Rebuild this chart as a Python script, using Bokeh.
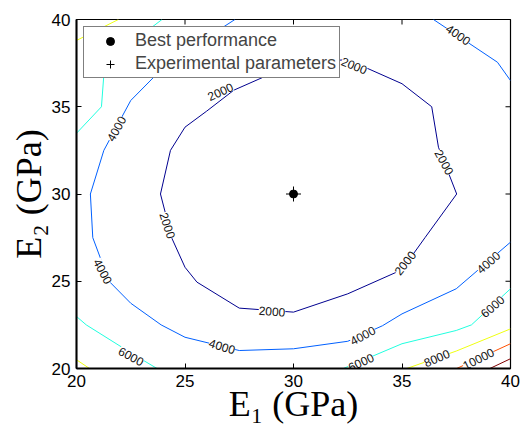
import numpy as np
from bokeh.plotting import figure
from bokeh.models import Range1d, ColumnDataSource
from bokeh.embed import file_html
from bokeh.resources import INLINE
from bokeh.core.properties import value

# ---------------- data ----------------
x_ticks = [20, 25, 30, 35, 40]
y_ticks = [20, 25, 30, 35, 40]

level_colors = {2000: "#00008F", 4000: "#0060FF", 6000: "#20FFDF",
                8000: "#EFFF10", 10000: "#FF5000", 12000: "#800000"}

# contour pieces (E1, E2 in GPa)
c2000_x = [30.0, 32.5, 35.0, 36.37, 36.68, 37.52, 36.06, 35.0, 32.5, 30.0, 27.5, 25.55, 25.0, 24.4, 23.87, 24.33, 25.0, 26.0, 27.25, 28.8, 30.0]
c2000_y = [37.5, 37.7, 36.32, 35.0, 32.68, 30.0, 27.5, 25.66, 24.28, 23.23, 23.46, 24.95, 25.8, 27.45, 30.0, 32.5, 33.83, 34.75, 35.95, 36.8, 37.5]

c4000a_x = [27.3, 24.2, 22.5, 21.26, 20.64, 20.75, 21.5, 22.5, 23.9, 25.0, 27.5, 30.0, 32.5, 34.1, 35.0, 37.5, 40.0]
c4000a_y = [40.0, 37.5, 35.36, 32.5, 30.0, 27.5, 25.0, 23.74, 22.5, 21.79, 21.03, 21.13, 21.56, 22.45, 23.13, 24.57, 27.24]
c4000b_x = [36.45, 39.4, 40.0]
c4000b_y = [40.0, 37.55, 36.5]

c6000a_x = [20.0, 21.15, 21.3, 23.94]
c6000a_y = [33.48, 35.0, 37.5, 40.0]
c6000b_x = [20.0, 20.45, 22.5, 23.71]
c6000b_y = [22.98, 22.5, 20.9, 20.0]
c6000c_x = [32.3, 35.0, 37.5, 38.2, 40.0]
c6000c_y = [20.0, 21.42, 22.18, 22.5, 24.57]

c8000a_x = [20.0, 21.93]
c8000a_y = [38.8, 40.0]
c8000b_x = [20.0, 20.6]
c8000b_y = [20.5, 20.0]
c8000c_x = [35.22, 37.5, 40.0]
c8000c_y = [20.0, 21.0, 22.27]

c10000_x = [37.52, 40.0]
c10000_y = [20.0, 21.42]

c12000_x = [39.05, 40.0]
c12000_y = [20.0, 20.56]

contour_pieces = [
    (2000, c2000_x, c2000_y),
    (4000, c4000a_x, c4000a_y), (4000, c4000b_x, c4000b_y),
    (6000, c6000a_x, c6000a_y), (6000, c6000b_x, c6000b_y), (6000, c6000c_x, c6000c_y),
    (8000, c8000a_x, c8000a_y), (8000, c8000b_x, c8000b_y), (8000, c8000c_x, c8000c_y),
    (10000, c10000_x, c10000_y),
    (12000, c12000_x, c12000_y),
]

# contour labels: position, text, screen angle (deg)
label_x = [26.63, 32.8, 24.2, 29.01, 35.14, 36.95,
           21.83, 21.22, 26.71, 33.19, 38.98, 37.6, 26.4,
           22.52, 33.11, 39.17,
           36.6, 20.92,
           38.52]
label_y = [35.87, 37.36, 28.2, 23.28, 26.05, 31.82,
           33.74, 25.57, 21.27, 21.89, 26.09, 39.13, 38.85,
           20.7, 20.36, 23.56,
           20.6, 38.89,
           20.56]
label_text = ["2000", "2000", "2000", "2000", "2000", "2000",
              "4000", "4000", "4000", "4000", "4000", "4000", "4000",
              "6000", "6000", "6000",
              "8000", "8000",
              "10000"]
label_angle = [24.5, -21.8, -71.9, -4.0, 51.0, -61.0,
               61.0, -62.0, -17.0, 28.0, 41.0, -34.4, 35.0,
               -28.0, 25.0, 41.0,
               23.5, 27.0,
               26.6]

best_x = [30.0]
best_y = [30.0]
exp_x = [30.0]
exp_y = [30.0]

# ---------------- figure ----------------
p = figure(width=523, height=428, output_backend="svg", toolbar_location=None,
           x_range=Range1d(20, 40), y_range=Range1d(20, 40),
           min_border_left=76, min_border_right=13, min_border_top=19, min_border_bottom=60)
p.background_fill_color = "white"
p.border_fill_color = "white"
p.xgrid.visible = False
p.ygrid.visible = False
p.outline_line_color = "black"
p.outline_line_width = 1.2

for ax, tk in ((p.xaxis[0], x_ticks), (p.yaxis[0], y_ticks)):
    ax.ticker = tk
    ax.major_tick_in = 5
    ax.major_tick_out = 0
    ax.minor_tick_line_color = None
    ax.axis_line_width = 2
    ax.axis_line_color = "black"
    ax.major_tick_line_color = "black"
    ax.major_label_text_font = "Liberation Sans"
    ax.major_label_text_font_size = "17px"
    ax.major_label_text_color = "black"
    ax.major_label_standoff = 6
    ax.axis_label_text_font = "Liberation Serif"
    ax.axis_label_text_font_style = "normal"
    ax.axis_label_text_font_size = "36px"
    ax.axis_label_text_color = "black"

p.xaxis.axis_label = "E\u2081 (GPa)"
p.yaxis.axis_label = "E\u2082 (GPa)"
p.xaxis.axis_label_standoff = -6
p.yaxis.axis_label_standoff = 0

# inward ticks on the top and right edges (half of a dash, clipped by the frame)
p.scatter(x_ticks, [y_ticks[-1]] * len(x_ticks), marker="dash", size=10,
          angle=np.pi / 2, line_color="black", line_width=1)
p.scatter([x_ticks[-1]] * len(y_ticks), y_ticks, marker="dash", size=10,
          line_color="black", line_width=1)

for lev, xs, ys in contour_pieces:
    p.line(xs, ys, line_color=level_colors[lev], line_width=1)

lab_src = ColumnDataSource(dict(x=label_x, y=label_y, text=label_text,
                                angle=list(np.deg2rad(label_angle))))
p.text(x="x", y="y", text="text", angle="angle", source=lab_src,
       text_font=value("Liberation Sans"), text_font_size="12px",
       text_align="center", text_baseline="middle", text_color="#111111",
       background_fill_color="white")

p.scatter(best_x, best_y, marker="circle", size=8, fill_color="black",
          line_color="black", legend_label="Best performance")
p.scatter(exp_x, exp_y, marker="cross", size=15, line_color="black",
          line_width=1, legend_label="Experimental parameters")

lg = p.legend[0]
lg.location = "top_left"
lg.margin = 7
lg.padding = 3
lg.spacing = 2
lg.glyph_width = 46
lg.glyph_height = 20
lg.label_height = 20
lg.label_standoff = 2
lg.label_text_font = "Liberation Sans"
lg.label_text_font_size = "18px"
lg.border_line_color = "black"
lg.border_line_width = 1
lg.background_fill_color = "white"
lg.background_fill_alpha = 1.0

open("out.html", "w").write(file_html(p, INLINE))
